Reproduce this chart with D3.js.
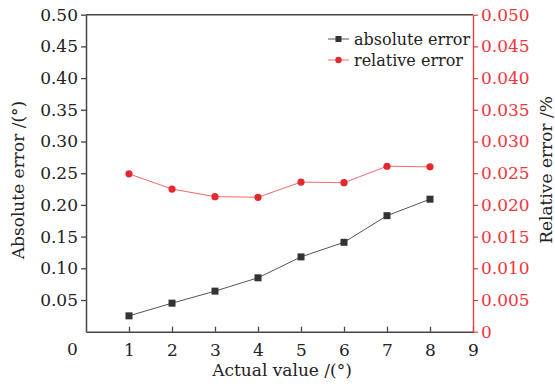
<!DOCTYPE html>
<html>
<head>
<meta charset="utf-8">
<script src="https://cdn.jsdelivr.net/npm/d3@7"></script>
<style>
  body { margin: 0; background: #fff; }
  svg text { font-family: "DejaVu Serif", serif; }
</style>
</head>
<body>
<div id="chart"></div>
<script>
// values
const actualValues = [1, 2, 3, 4, 5, 6, 7, 8];
const absoluteError = [0.025, 0.045, 0.064, 0.085, 0.118, 0.141, 0.183, 0.209];
const relativeError = [0.0249, 0.0225, 0.0213, 0.0212, 0.0236, 0.0235, 0.0261, 0.0260];
const xTicks = [1, 2, 3, 4, 5, 6, 7, 8, 9];
const leftTicks = [0.05, 0.10, 0.15, 0.20, 0.25, 0.30, 0.35, 0.40, 0.45, 0.50];
const rightTicks = [0, 0.005, 0.010, 0.015, 0.020, 0.025, 0.030, 0.035, 0.040, 0.045, 0.050];

const axisGray = "#444";
const red = "#f2353b";

function drawChart() {
    const svg = d3.select("#chart")
        .append("svg")
        .attr("width", 555)
        .attr("height", 388);

    const left = 86, right = 473, top = 14.7, bottom = 331.7;

    const x = d3.scaleLinear().domain([0, 9]).range([left, right]);
    const y = d3.scaleLinear().domain([0, 0.5]).range([bottom, top]);
    const y2 = d3.scaleLinear().domain([0, 0.05]).range([bottom, top]);

    // top frame line
    svg.append("line")
        .attr("x1", left).attr("x2", right)
        .attr("y1", top).attr("y2", top)
        .attr("stroke", axisGray).attr("stroke-width", 1.5);

    // bottom axis, ticks point up into the plot
    const xAxis = svg.append("g")
        .attr("transform", `translate(0,${bottom})`)
        .call(d3.axisBottom(x).tickValues(xTicks).tickSizeInner(-5).tickSizeOuter(0).tickPadding(12));
    xAxis.select(".domain").attr("stroke", axisGray).attr("stroke-width", 1.5);
    xAxis.selectAll(".tick line").attr("stroke", axisGray).attr("stroke-width", 1.3);
    xAxis.selectAll("text").attr("font-size", 17).attr("fill", "#222")
        .attr("font-family", "DejaVu Serif");
    svg.append("text")
        .attr("x", 72.5).attr("y", 355)
        .attr("text-anchor", "middle")
        .attr("font-size", 17).attr("fill", "#222")
        .text("0");

    // left axis
    const yAxis = svg.append("g")
        .attr("transform", `translate(${left},0)`)
        .call(d3.axisLeft(y).tickValues(leftTicks).tickFormat(d3.format(".2f"))
            .tickSizeInner(5).tickSizeOuter(0).tickPadding(3));
    yAxis.select(".domain").attr("stroke", axisGray).attr("stroke-width", 1.5);
    yAxis.selectAll(".tick line").attr("stroke", axisGray).attr("stroke-width", 1.3);
    yAxis.selectAll("text").attr("font-size", 17).attr("fill", "#222")
        .attr("font-family", "DejaVu Serif");

    // right axis in red
    const y2Axis = svg.append("g")
        .attr("transform", `translate(${right},0)`)
        .call(d3.axisRight(y2).tickValues(rightTicks)
            .tickFormat(d => d === 0 ? "0" : d3.format(".3f")(d))
            .tickSizeInner(5).tickSizeOuter(0).tickPadding(3));
    y2Axis.select(".domain").attr("stroke", red).attr("stroke-width", 1.3);
    y2Axis.selectAll(".tick line").attr("stroke", red).attr("stroke-width", 1.2);
    y2Axis.selectAll("text").attr("font-size", 17).attr("fill", red)
        .attr("font-family", "DejaVu Serif");

    // axis titles
    svg.append("text")
        .attr("transform", "translate(24,180) rotate(-90)")
        .attr("text-anchor", "middle")
        .attr("font-size", 17).attr("fill", "#222")
        .text("Absolute error /(°)");

    svg.append("text")
        .attr("transform", "translate(552,170) rotate(-90)")
        .attr("text-anchor", "middle")
        .attr("font-size", 17).attr("fill", "#222")
        .text("Relative error /%");

    svg.append("text")
        .attr("x", 282).attr("y", 376)
        .attr("text-anchor", "middle")
        .attr("font-size", 17).attr("fill", "#222")
        .text("Actual value /(°)");

    // relative error series
    const relData = actualValues.map((v, i) => ({ x: v, y: relativeError[i] }));
    svg.append("path")
        .datum(relData)
        .attr("fill", "none")
        .attr("stroke", "#f26a6e")
        .attr("stroke-width", 1)
        .attr("d", d3.line().x(d => x(d.x)).y(d => y2(d.y)));
    svg.selectAll(".rel")
        .data(relData)
        .enter()
        .append("circle")
        .attr("class", "rel")
        .attr("cx", d => x(d.x))
        .attr("cy", d => y2(d.y))
        .attr("r", 3.6)
        .attr("fill", "#e8262e");

    // absolute error series
    const absData = actualValues.map((v, i) => ({ x: v, y: absoluteError[i] }));
    svg.append("path")
        .datum(absData)
        .attr("fill", "none")
        .attr("stroke", "#555")
        .attr("stroke-width", 1)
        .attr("d", d3.line().x(d => x(d.x)).y(d => y(d.y)));
    svg.selectAll(".abs")
        .data(absData)
        .enter()
        .append("rect")
        .attr("class", "abs")
        .attr("x", d => x(d.x) - 3.5)
        .attr("y", d => y(d.y) - 3.5)
        .attr("width", 7)
        .attr("height", 7)
        .attr("fill", "#333");

    // legend
    const legend = svg.append("g").attr("transform", "translate(328,39)");
    legend.append("line").attr("x1", 0).attr("x2", 21).attr("y1", 0).attr("y2", 0)
        .attr("stroke", "#555").attr("stroke-width", 1);
    legend.append("rect").attr("x", 7.5).attr("y", -3).attr("width", 6).attr("height", 6)
        .attr("fill", "#333");
    legend.append("text").attr("x", 26).attr("y", 5.5)
        .attr("font-size", 16).attr("fill", "#222").text("absolute error");

    legend.append("line").attr("x1", 0).attr("x2", 21).attr("y1", 21).attr("y2", 21)
        .attr("stroke", "#f26a6e").attr("stroke-width", 1);
    legend.append("circle").attr("cx", 10.5).attr("cy", 21).attr("r", 3.2)
        .attr("fill", "#e8262e");
    legend.append("text").attr("x", 26).attr("y", 26.5)
        .attr("font-size", 16).attr("fill", "#222").text("relative error");
}

drawChart();
</script>
</body>
</html>
